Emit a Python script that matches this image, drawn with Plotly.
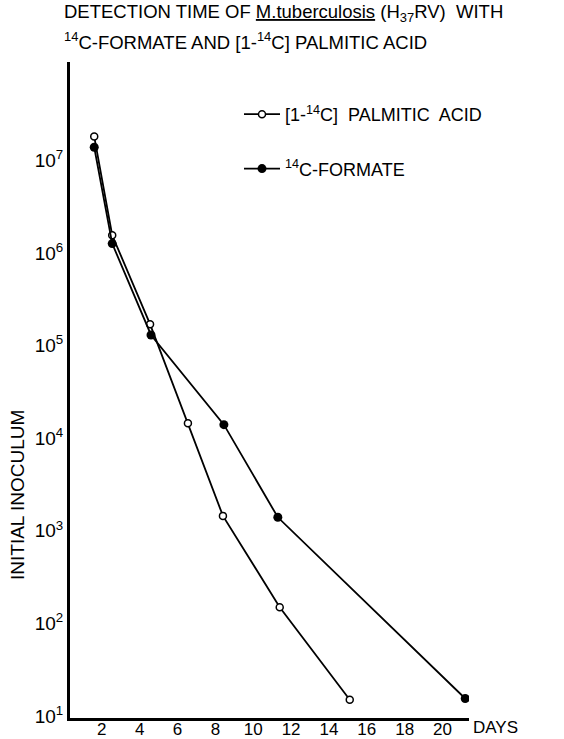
import plotly.graph_objects as go

# Data
palmitic_days = [1.6, 2.55, 4.55, 6.55, 8.4, 11.4, 15.1]
palmitic_inoculum = [1.8e7, 1.55e6, 1.7e5, 1.45e4, 1.45e3, 1.5e2, 15]
formate_days = [1.6, 2.55, 4.6, 8.45, 11.3, 21.2]
formate_inoculum = [1.38e7, 1.26e6, 1.3e5, 1.4e4, 1.4e3, 15.5]

x_ticks = [2, 4, 6, 8, 10, 12, 14, 16, 18, 20]
y_ticks = [1e1, 1e2, 1e3, 1e4, 1e5, 1e6, 1e7]
y_ticktext = ["10<sup>%d</sup>" % k for k in range(1, 8)]

title_line1 = "DETECTION TIME OF <u>M.tuberculosis</u> (H<sub>37</sub>RV)  WITH"
title_line2 = "<sup>14</sup>C-FORMATE AND [1-<sup>14</sup>C] PALMITIC ACID"

FONT = "Liberation Sans, Arial, sans-serif"

L, R, T, B = 70, 95, 62, 21
W, H = 564, 739
PW, PH = W - L - R, H - T - B


def px(xp):
    return (xp - L) / PW


def py(yp):
    return (H - B - yp) / PH


fig = go.Figure()
fig.add_trace(go.Scatter(
    x=palmitic_days, y=palmitic_inoculum, mode="lines+markers",
    name="[1-<sup>14</sup>C]  PALMITIC  ACID", legendgroup="a",
    line=dict(color="black", width=1.8),
    marker=dict(symbol="circle", size=7, color="white", line=dict(color="black", width=1.5)),
))
fig.add_trace(go.Scatter(
    x=formate_days, y=formate_inoculum, mode="lines+markers",
    name="<sup>14</sup>C-FORMATE", legendgroup="b",
    line=dict(color="black", width=1.8),
    marker=dict(symbol="circle", size=9, color="black"),
))

fig.update_layout(
    width=W, height=H,
    margin=dict(l=L, r=R, t=T, b=B),
    paper_bgcolor="white", plot_bgcolor="white",
    font=dict(family=FONT, color="black", size=17),
    showlegend=True,
    legend=dict(
        x=px(239), y=py(96), xanchor="left", yanchor="top",
        bgcolor="rgba(0,0,0,0)", font=dict(size=18, family=FONT),
        traceorder="grouped", tracegroupgap=28, itemwidth=36,
    ),
    xaxis=dict(
        range=[0.32, 21.4], tickvals=x_ticks, ticks="", showgrid=False, zeroline=False,
        showline=True, linecolor="black", linewidth=3, automargin=False,
        ticklabelstandoff=-6,
        tickfont=dict(size=17, family=FONT),
    ),
    yaxis=dict(
        type="log", range=[0.98, 8.06], tickvals=y_ticks, ticktext=y_ticktext,
        ticks="", showgrid=False, zeroline=False, automargin=False,
        showline=True, linecolor="black", linewidth=3,
        tickfont=dict(size=19, family=FONT),
    ),
    annotations=[
        dict(text=title_line1, xref="paper", yref="paper", x=px(62), y=py(13),
             xanchor="left", yanchor="middle", showarrow=False, font=dict(size=18.5, family=FONT)),
        dict(text=title_line2, xref="paper", yref="paper", x=px(62), y=py(41),
             xanchor="left", yanchor="middle", showarrow=False, font=dict(size=18.5, family=FONT)),
        dict(text="DAYS", xref="paper", yref="paper", x=px(471), y=py(728),
             xanchor="left", yanchor="middle", showarrow=False, font=dict(size=17, family=FONT)),
        dict(text="INITIAL INOCULUM", xref="paper", yref="paper", x=px(17), y=py(495),
             xanchor="center", yanchor="middle", textangle=-90, showarrow=False,
             font=dict(size=19, family=FONT)),
    ],
)

fig.write_html("out.html", config={"displayModeBar": False},
               post_script="document.body.style.margin='0';")
